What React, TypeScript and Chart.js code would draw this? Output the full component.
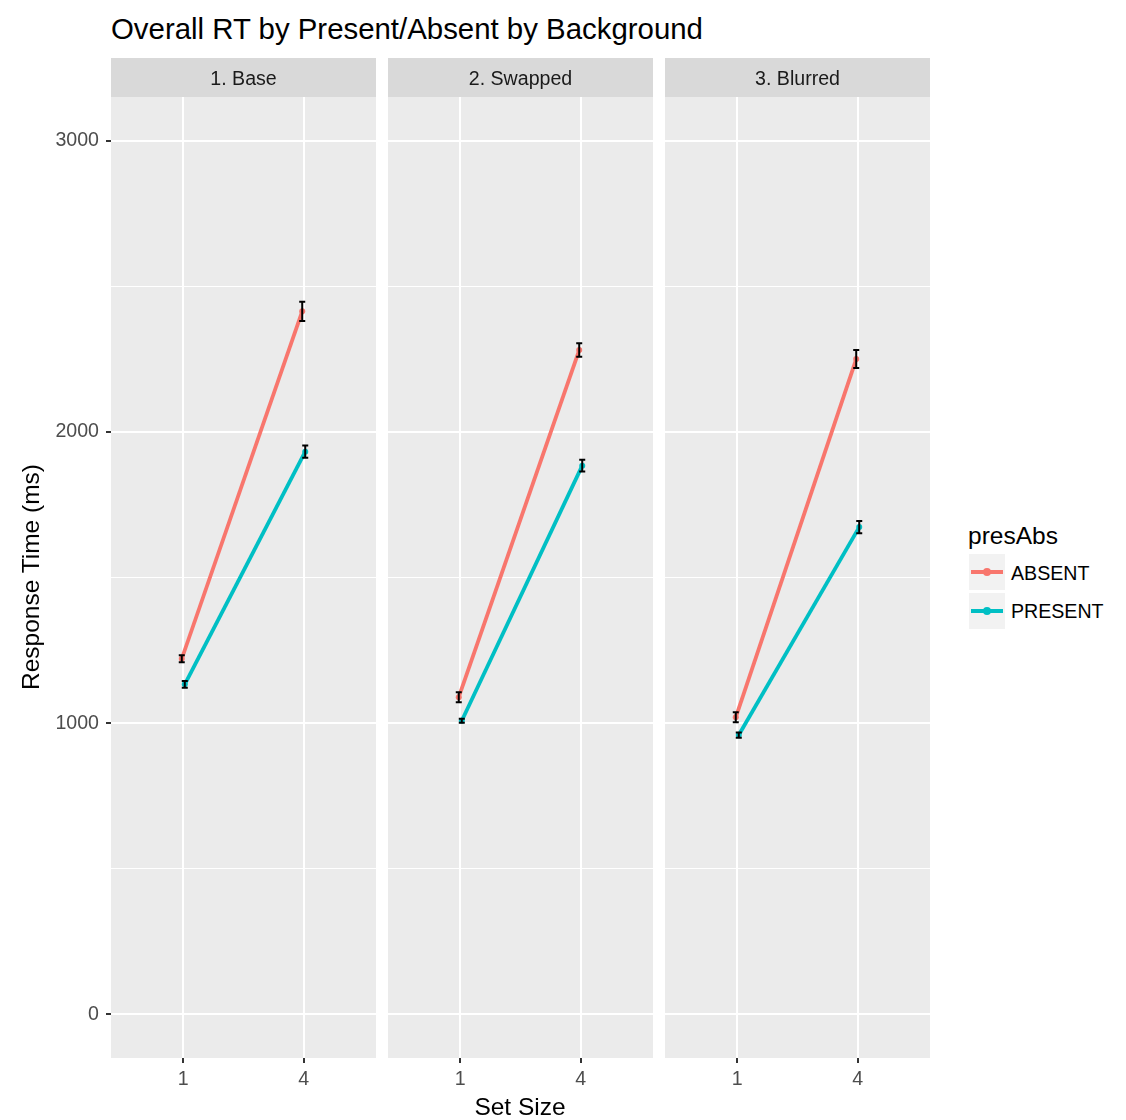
import React, { useEffect, useRef } from "react";
import { Chart, registerables } from "chart.js";

Chart.register(...registerables);

// ---- data ----
const facetLabels = ["1. Base", "2. Swapped", "3. Blurred"];
const setSizeLabels = ["1", "4"];
const setSizePositions = [1, 2];
const seriesNames = ["ABSENT", "PRESENT"];
const seriesColors = ["#F8766D", "#00BFC4"];
const absentMeans = [
  [1221, 2414],
  [1089, 2281],
  [1020, 2250],
];
const absentSE = [
  [12, 33],
  [17, 23],
  [17, 31],
];
const presentMeans = [
  [1133, 1932],
  [1008, 1884],
  [959, 1673],
];
const presentSE = [
  [12, 21],
  [7, 20],
  [9, 21],
];
const yTickValues = [0, 500, 1000, 1500, 2000, 2500, 3000];

const FONT = "'Liberation Sans', Arial, Helvetica, sans-serif";
const DODGE = 0.0125;

const errorBarPlugin = {
  id: "errorBars",
  afterDatasetsDraw(chart: any) {
    const ctx = chart.ctx;
    const xs = chart.scales.x;
    const ys = chart.scales.y;
    ctx.save();
    ctx.strokeStyle = "#000000";
    ctx.lineWidth = 2;
    chart.data.datasets.forEach((ds: any) => {
      ds.data.forEach((pt: any, i: number) => {
        const se = ds.errors[i];
        const px = xs.getPixelForValue(pt.x);
        const half = Math.abs(xs.getPixelForValue(pt.x + 0.025) - px);
        const yt = ys.getPixelForValue(pt.y + se);
        const yb = ys.getPixelForValue(pt.y - se);
        ctx.beginPath();
        ctx.moveTo(px, yt);
        ctx.lineTo(px, yb);
        ctx.moveTo(px - half, yt);
        ctx.lineTo(px + half, yt);
        ctx.moveTo(px - half, yb);
        ctx.lineTo(px + half, yb);
        ctx.stroke();
      });
    });
    ctx.restore();
  },
};

function makePanelPlugin(label: string) {
  return {
    id: "panelBg",
    beforeDraw(chart: any) {
      const { ctx, chartArea: a } = chart;
      ctx.save();
      ctx.fillStyle = "#EBEBEB";
      ctx.fillRect(a.left, a.top, a.right - a.left, a.bottom - a.top);
      ctx.fillStyle = "#D9D9D9";
      ctx.fillRect(a.left, 0, a.right - a.left, a.top);
      ctx.fillStyle = "#1A1A1A";
      ctx.font = `19.6px ${FONT}`;
      ctx.textAlign = "center";
      ctx.textBaseline = "middle";
      ctx.fillText(label, (a.left + a.right) / 2, a.top / 2 + 2.5);
      ctx.restore();
    },
  };
}

function Panel(props: { index: number; left: number; width: number; showY: boolean }) {
  const { index, left, width, showY } = props;
  const ref = useRef<HTMLCanvasElement>(null);
  const height = 1040;

  useEffect(() => {
    const means = [absentMeans[index], presentMeans[index]];
    const ses = [absentSE[index], presentSE[index]];
    const dodges = [-DODGE, DODGE];
    const datasets = seriesNames.map((name, si) => ({
      label: name,
      data: means[si].map((m, i) => ({ x: setSizePositions[i] + dodges[si], y: m })),
      errors: ses[si],
      borderColor: seriesColors[si],
      backgroundColor: seriesColors[si],
      pointBackgroundColor: seriesColors[si],
      pointBorderWidth: 0,
      pointRadius: 3,
      borderWidth: 3.8,
      tension: 0,
      fill: false,
    }));

    const chart = new Chart(ref.current as HTMLCanvasElement, {
      type: "line",
      data: { datasets } as any,
      options: {
        responsive: false,
        maintainAspectRatio: false,
        animation: false,
        events: [],
        layout: { autoPadding: false, padding: { top: 39, left: 0, right: 0, bottom: 0 } },
        plugins: {
          legend: { display: false },
          tooltip: { enabled: false },
          title: { display: false },
        },
        scales: {
          x: {
            type: "linear",
            min: 0.4,
            max: 2.6,
            afterBuildTicks: (s: any) => {
              s.ticks = setSizePositions.map((v) => ({ value: v }));
            },
            afterFit: (s: any) => {
              s.height = 40;
            },
            ticks: {
              callback: (_v: any, i: number) => setSizeLabels[i],
              color: "#4D4D4D",
              font: { family: FONT, size: 19.6 },
              padding: 5,
              maxRotation: 0,
              autoSkip: false,
            },
            grid: {
              color: "#FFFFFF",
              lineWidth: 2,
              tickLength: 5,
              tickColor: "#333333",
              tickWidth: 2,
            },
            border: { display: false },
          },
          y: {
            type: "linear",
            min: -150,
            max: 3150,
            afterBuildTicks: (s: any) => {
              s.ticks = yTickValues.map((v) => ({ value: v }));
            },
            afterFit: (s: any) => {
              s.width = showY ? 111 : 0;
            },
            ticks: {
              display: showY,
              callback: (v: any) => (Number(v) % 1000 === 0 ? String(v) : ""),
              color: "#4D4D4D",
              font: { family: FONT, size: 19.6 },
              padding: 7,
            },
            grid: {
              color: "#FFFFFF",
              lineWidth: (c: any) => (c.tick && c.tick.value % 1000 === 0 ? 2 : 1),
              drawTicks: showY,
              tickLength: 5,
              tickWidth: 2,
              tickColor: (c: any) =>
                c.tick && c.tick.value % 1000 === 0 ? "#333333" : "rgba(0,0,0,0)",
            },
            border: { display: false },
          },
        },
      } as any,
      plugins: [makePanelPlugin(facetLabels[index]), errorBarPlugin],
    });
    return () => chart.destroy();
  }, [index, showY]);

  return (
    <canvas
      ref={ref}
      width={width}
      height={height}
      style={{ position: "absolute", left, top: 58, width, height, display: "block" }}
    />
  );
}

export default function App() {
  const panels = [
    { left: 0, width: 376, showY: true },
    { left: 388, width: 265, showY: false },
    { left: 665, width: 265, showY: false },
  ];
  return (
    <div
      style={{
        position: "absolute",
        left: 0,
        top: 0,
        width: 1126,
        height: 1120,
        background: "#FFFFFF",
        fontFamily: FONT,
        overflow: "hidden",
      }}
    >
      <div
        style={{
          position: "absolute",
          left: 111,
          top: 13.6,
          fontSize: 29.4,
          lineHeight: 1,
          color: "#000000",
          whiteSpace: "nowrap",
        }}
      >
        Overall RT by Present/Absent by Background
      </div>

      {panels.map((p, i) => (
        <Panel key={i} index={i} left={p.left} width={p.width} showY={p.showY} />
      ))}

      <div
        style={{
          position: "absolute",
          left: -169,
          top: 562,
          width: 400,
          height: 30,
          lineHeight: "30px",
          fontSize: 24.5,
          textAlign: "center",
          color: "#000000",
          transform: "rotate(-90deg)",
          whiteSpace: "nowrap",
        }}
      >
        Response Time (ms)
      </div>

      <div
        style={{
          position: "absolute",
          left: 320,
          top: 1094.8,
          width: 400,
          fontSize: 24.5,
          lineHeight: 1,
          textAlign: "center",
          color: "#000000",
          whiteSpace: "nowrap",
        }}
      >
        Set Size
      </div>

      <div
        style={{
          position: "absolute",
          left: 968,
          top: 524.3,
          fontSize: 24.5,
          lineHeight: 1,
          color: "#000000",
          whiteSpace: "nowrap",
        }}
      >
        presAbs
      </div>
      {seriesNames.map((name, i) => (
        <React.Fragment key={name}>
          <div
            style={{
              position: "absolute",
              left: 969,
              top: 554 + i * 39,
              width: 36,
              height: 36,
              background: "#F2F2F2",
            }}
          >
            <div
              style={{
                position: "absolute",
                left: 2,
                top: 16,
                width: 32,
                height: 4,
                background: seriesColors[i],
              }}
            />
            <div
              style={{
                position: "absolute",
                left: 14,
                top: 14,
                width: 8,
                height: 8,
                borderRadius: 4,
                background: seriesColors[i],
              }}
            />
          </div>
          <div
            style={{
              position: "absolute",
              left: 1011,
              top: 564.4 + i * 38,
              fontSize: 19.6,
              lineHeight: 1,
              color: "#000000",
              whiteSpace: "nowrap",
            }}
          >
            {name}
          </div>
        </React.Fragment>
      ))}
    </div>
  );
}
